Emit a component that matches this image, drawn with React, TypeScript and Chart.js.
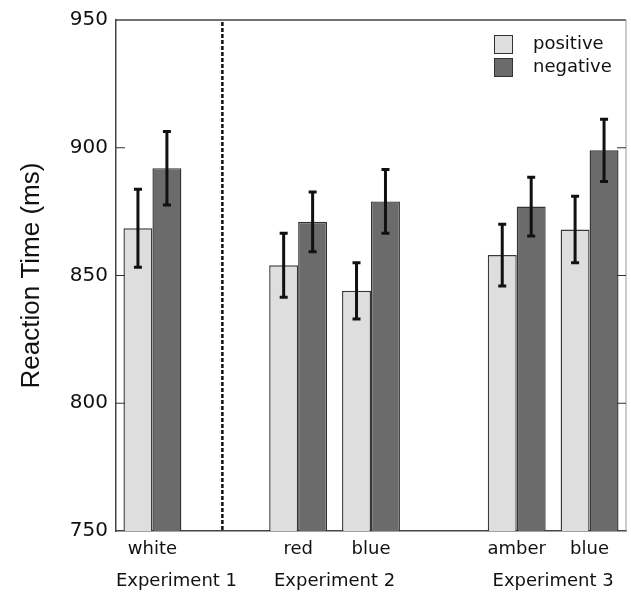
import React, { useEffect, useRef } from "react";
import { Chart, registerables } from "chart.js";

Chart.register(...registerables);

const categories = ["white", "", "red", "blue", "", "amber", "blue"];
const seriesLabels = ["positive", "negative"];
const positiveRT = [868.5, null, 854, 844, null, 858, 868];
const negativeRT = [892, null, 871, 879, null, 877, 899];
const positiveErr = [15.3, null, 12.5, 11, null, 12.1, 13];
const negativeErr = [14.4, null, 11.7, 12.5, null, 11.5, 12.2];
const experimentLabels = ["Experiment 1", "Experiment 2", "Experiment 3"];
const experimentPositions = [0.33, 2.5, 5.5];
const dividerPosition = 0.96;
const yMin = 750;
const yMax = 950;
const yStep = 50;
const yTitle = "Reaction Time (ms)";

const SANS = "'DejaVu Sans', sans-serif";
const HELV = "'Liberation Sans', Arial, sans-serif";

const errorBarPlugin = {
  id: "errorBars",
  afterDatasetsDraw(chart: any) {
    const ctx = chart.ctx;
    const y = chart.scales.y;
    ctx.save();
    ctx.strokeStyle = "#111";
    ctx.lineWidth = 3;
    chart.data.datasets.forEach((ds: any, i: number) => {
      const meta = chart.getDatasetMeta(i);
      meta.data.forEach((el: any, j: number) => {
        const v = ds.data[j];
        const e = ds.errors[j];
        if (v == null || e == null) return;
        const x = el.x;
        const yt = y.getPixelForValue(v + e);
        const yb = y.getPixelForValue(v - e);
        ctx.beginPath();
        ctx.moveTo(x, yt);
        ctx.lineTo(x, yb);
        ctx.moveTo(x - 4, yt);
        ctx.lineTo(x + 4, yt);
        ctx.moveTo(x - 4, yb);
        ctx.lineTo(x + 4, yb);
        ctx.stroke();
      });
    });
    ctx.restore();
  },
};

const framePlugin = {
  id: "frame",
  afterDraw(chart: any) {
    const ctx = chart.ctx;
    const { left, right, top, bottom } = chart.chartArea;
    const y = chart.scales.y;
    const x = chart.scales.x;
    ctx.save();
    ctx.strokeStyle = "#444";
    ctx.lineWidth = 1.5;
    ctx.beginPath();
    ctx.moveTo(left, top);
    ctx.lineTo(right, top);
    ctx.stroke();
    ctx.strokeStyle = "#999";
    ctx.lineWidth = 1;
    ctx.beginPath();
    ctx.moveTo(right, top);
    ctx.lineTo(right, bottom);
    ctx.stroke();
    ctx.strokeStyle = "#333";
    ctx.lineWidth = 1.2;
    y.ticks.forEach((t: any) => {
      if (t.value === yMin || t.value === yMax) return;
      const py = y.getPixelForValue(t.value);
      ctx.beginPath();
      ctx.moveTo(left, py);
      ctx.lineTo(left + 9, py);
      ctx.moveTo(right, py);
      ctx.lineTo(right - 9, py);
      ctx.stroke();
    });
    const dx = x.getPixelForValue(dividerPosition);
    ctx.strokeStyle = "#111";
    ctx.lineWidth = 2.5;
    ctx.setLineDash([4, 2]);
    ctx.beginPath();
    ctx.moveTo(dx, top + 2);
    ctx.lineTo(dx, bottom);
    ctx.stroke();
    ctx.setLineDash([]);
    ctx.fillStyle = "#111";
    ctx.font = `18px ${SANS}`;
    ctx.textAlign = "center";
    ctx.textBaseline = "alphabetic";
    experimentLabels.forEach((lab, i) => {
      ctx.fillText(lab, x.getPixelForValue(experimentPositions[i]), bottom + 55);
    });
    const bx = right - 132;
    let by = top + 15;
    chart.data.datasets.forEach((ds: any) => {
      ctx.fillStyle = ds.backgroundColor;
      ctx.fillRect(bx, by, 18, 18);
      ctx.strokeStyle = "#333";
      ctx.lineWidth = 1;
      ctx.strokeRect(bx + 0.5, by + 0.5, 18, 18);
      ctx.fillStyle = "#111";
      ctx.font = `18px ${SANS}`;
      ctx.textAlign = "left";
      ctx.textBaseline = "middle";
      ctx.fillText(ds.label, bx + 39, by + 9);
      by += 23;
    });
    ctx.restore();
  },
};

export default function App() {
  const ref = useRef<HTMLCanvasElement>(null);
  useEffect(() => {
    if (!ref.current) return;
    const chart = new Chart(ref.current, {
      type: "bar",
      data: {
        labels: categories,
        datasets: [
          {
            label: seriesLabels[0],
            data: positiveRT,
            errors: positiveErr,
            backgroundColor: "#dedede",
            borderColor: "#3a3a3a",
            borderWidth: 1.4,
          } as any,
          {
            label: seriesLabels[1],
            data: negativeRT,
            errors: negativeErr,
            backgroundColor: "#6b6b6b",
            borderColor: "#333",
            borderWidth: 1.4,
          } as any,
        ],
      },
      options: {
        animation: false,
        responsive: true,
        maintainAspectRatio: false,
        layout: { padding: { top: 20, right: 5, left: 0, bottom: 0 } },
        datasets: { bar: { categoryPercentage: 0.795, barPercentage: 1, skipNull: false } },
        plugins: { legend: { display: false }, tooltip: { enabled: false } },
        scales: {
          x: {
            offset: true,
            grid: { display: true, drawOnChartArea: false, drawTicks: false },
            border: { display: true, color: "#444", width: 1.5 },
            ticks: {
              color: "#111",
              font: { family: SANS, size: 18 },
              padding: 8,
              maxRotation: 0,
              autoSkip: false,
            },
            afterFit: (s: any) => {
              s.height = 61;
            },
          },
          y: {
            min: yMin,
            max: yMax,
            grid: { display: true, drawOnChartArea: false, drawTicks: false },
            border: { display: true, color: "#444", width: 1.5 },
            ticks: {
              stepSize: yStep,
              color: "#111",
              font: { family: SANS, size: 20 },
              padding: 8,
            },
            title: {
              display: true,
              text: yTitle,
              color: "#111",
              font: { family: HELV, size: 26 },
              padding: { top: 16, bottom: 0 },
            },
            afterFit: (s: any) => {
              s.width = 116;
            },
          },
        },
      },
      plugins: [errorBarPlugin, framePlugin],
    });
    return () => chart.destroy();
  }, []);
  return (
    <div style={{ position: "absolute", left: 0, top: 0, width: 631, height: 592 }}>
      <canvas ref={ref} />
    </div>
  );
}
